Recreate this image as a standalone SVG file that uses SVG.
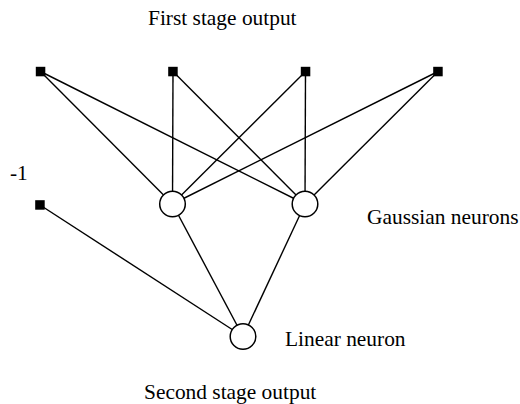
<svg xmlns="http://www.w3.org/2000/svg" width="520" height="404" viewBox="0 0 520 404">
<style>
text{font-family:"Liberation Serif","Times New Roman",serif;font-size:21.4px;fill:#000}
.e{stroke:#000;stroke-width:1.4;fill:none}
.sq{fill:#000}
.n{fill:#fff;stroke:#000;stroke-width:1.5}
</style>
<rect width="520" height="404" fill="#fff"/>
<g id="connectors">
<line class="e" x1="40.5" y1="71.5" x2="172.5" y2="204"/>
<line class="e" x1="40.5" y1="71.5" x2="305" y2="204"/>
<line class="e" x1="173" y1="71.5" x2="172.5" y2="204"/>
<line class="e" x1="173" y1="71.5" x2="305" y2="204"/>
<line class="e" x1="305.5" y1="71.5" x2="172.5" y2="204"/>
<line class="e" x1="305.5" y1="71.5" x2="305" y2="204"/>
<line class="e" x1="438" y1="71.5" x2="172.5" y2="204"/>
<line class="e" x1="438" y1="71.5" x2="305" y2="204"/>
<line class="e" x1="40" y1="205" x2="243" y2="336.5"/>
<line class="e" x1="172.5" y1="204" x2="243" y2="336.5"/>
<line class="e" x1="305" y1="204" x2="243" y2="336.5"/>
</g>
<g id="in1"><rect class="sq" x="35.8" y="66.8" width="9.5" height="9.5"/></g>
<g id="in2"><rect class="sq" x="168.2" y="66.8" width="9.5" height="9.5"/></g>
<g id="in3"><rect class="sq" x="300.8" y="66.8" width="9.5" height="9.5"/></g>
<g id="in4"><rect class="sq" x="433.2" y="66.8" width="9.5" height="9.5"/></g>
<g id="bias"><rect class="sq" x="35.2" y="200.2" width="9.5" height="9.5"/><text x="10" y="180">-1</text></g>
<g id="g1"><circle class="n" cx="172.5" cy="204" r="12.8"/></g>
<g id="g2"><circle class="n" cx="305" cy="204" r="12.8"/></g>
<g id="lin"><circle class="n" cx="243" cy="336.5" r="12.8"/></g>
<g id="labels">
<text x="148" y="25">First stage output</text>
<text x="367" y="224">Gaussian neurons</text>
<text x="285" y="346">Linear neuron</text>
<text x="144" y="399">Second stage output</text>
</g>
</svg>
